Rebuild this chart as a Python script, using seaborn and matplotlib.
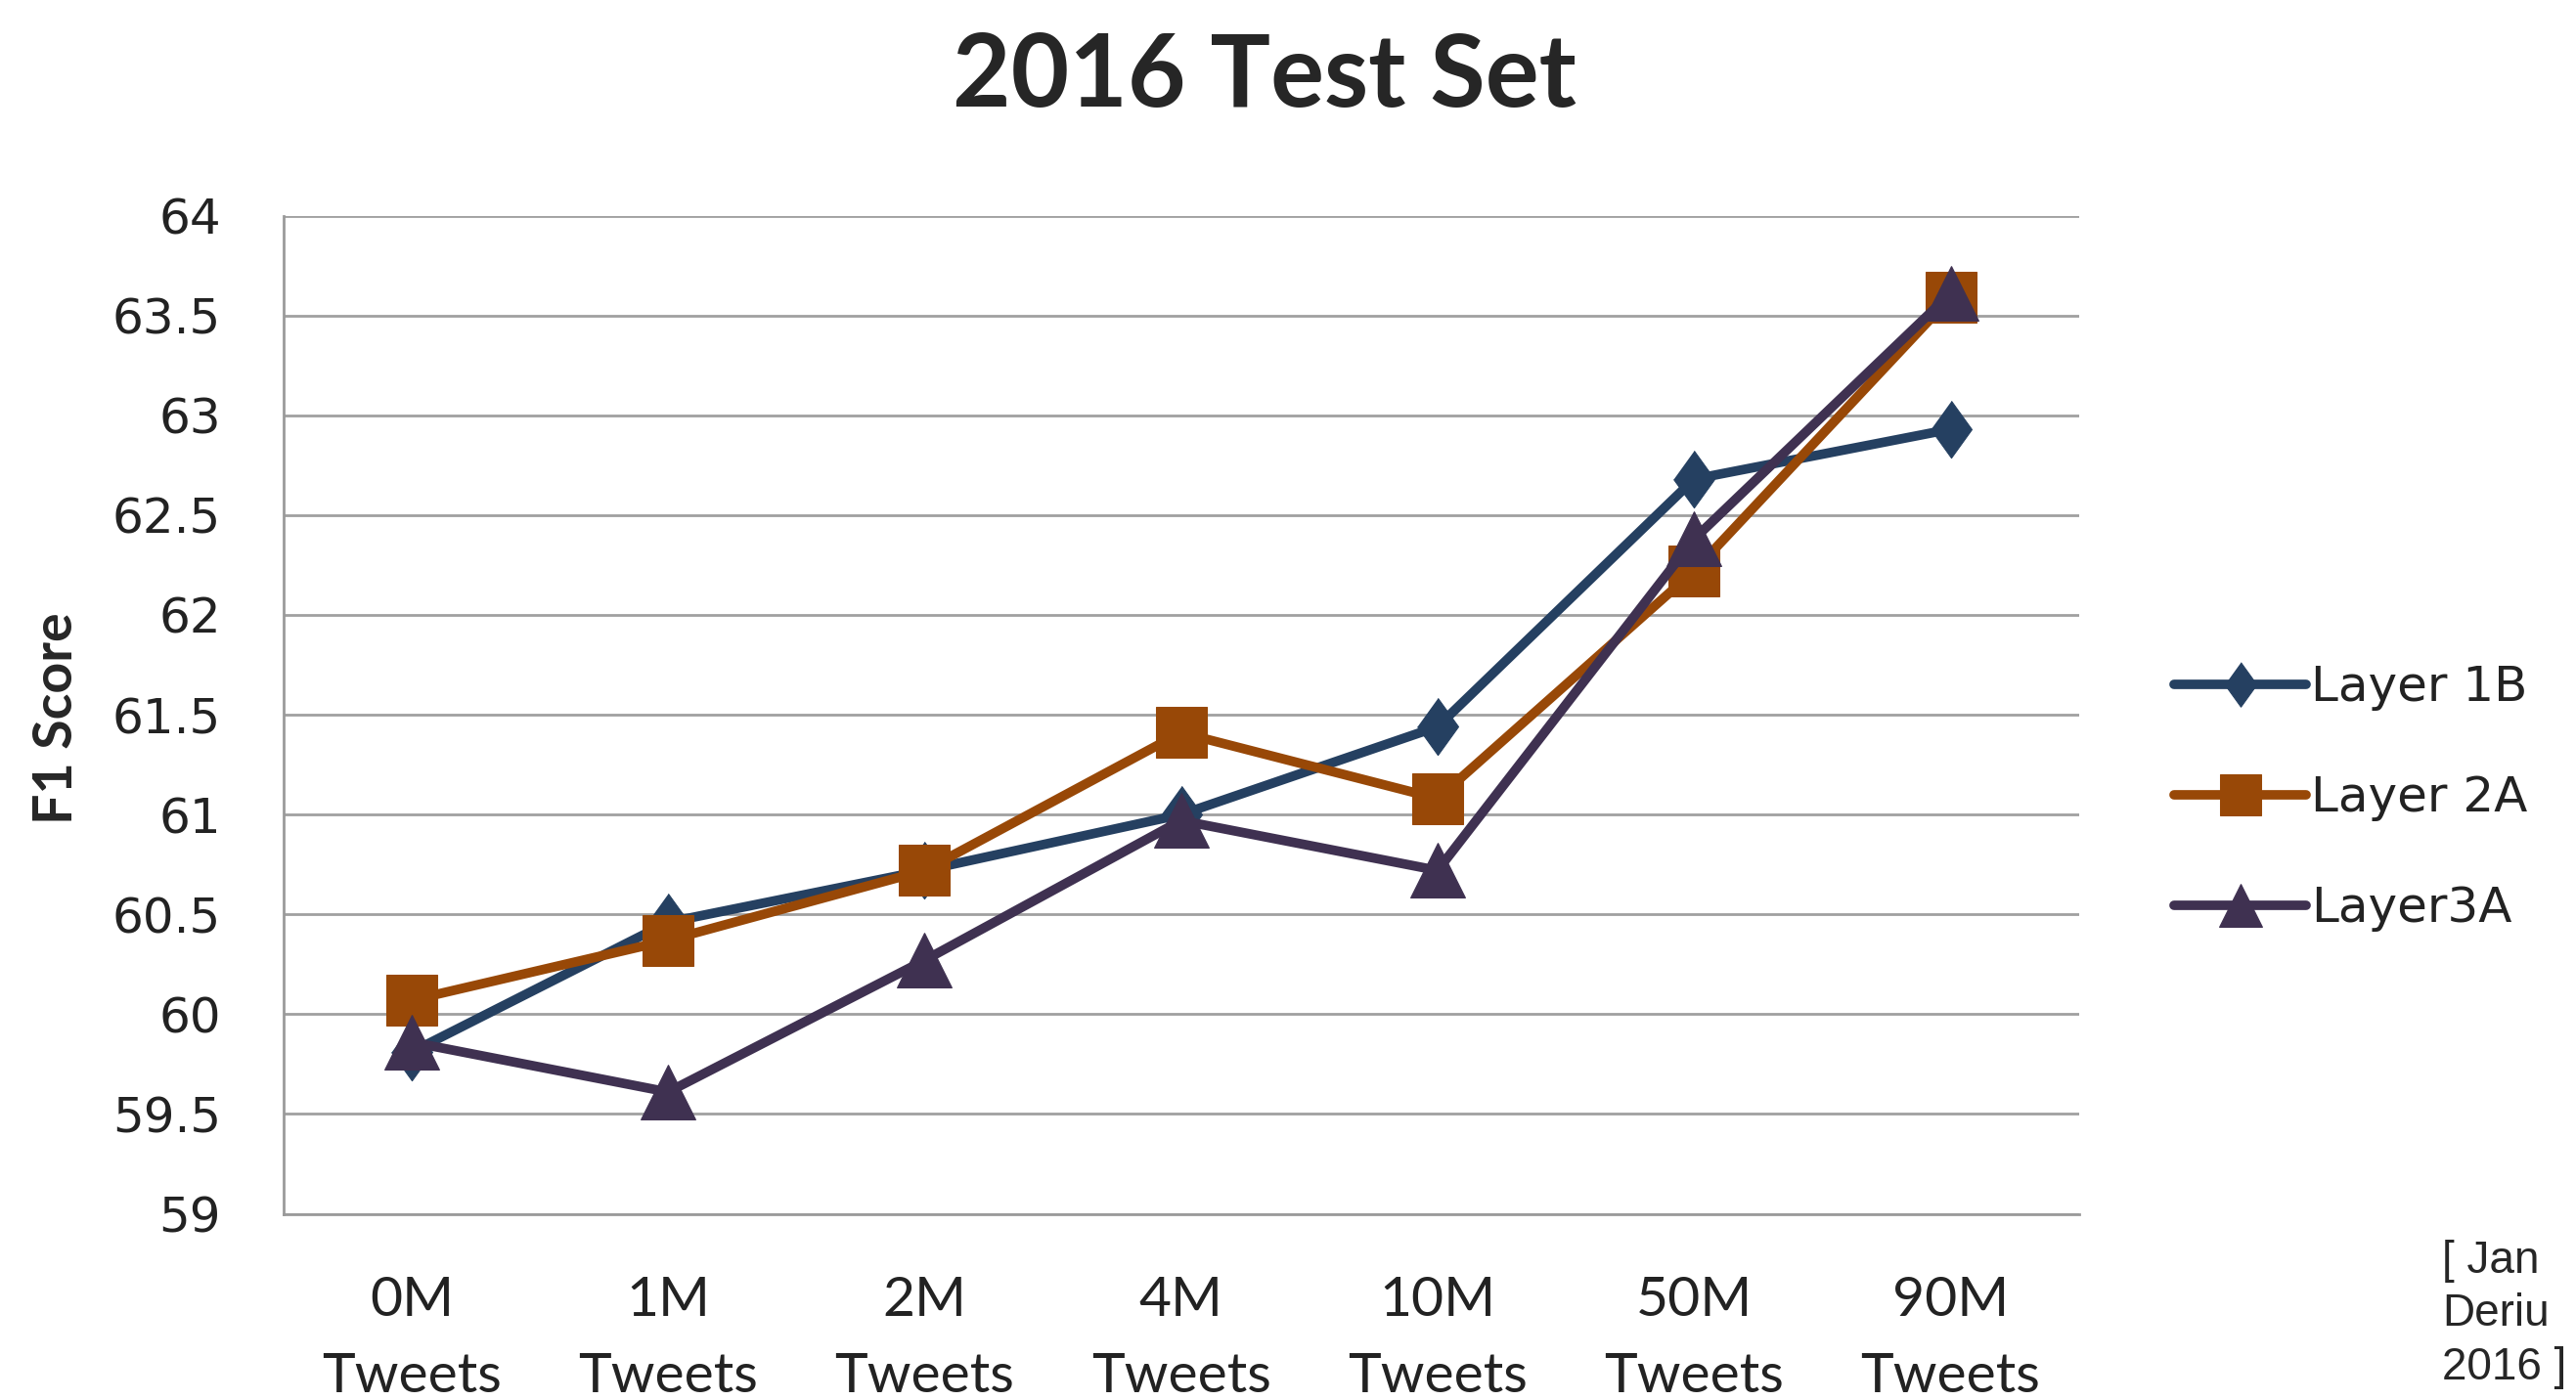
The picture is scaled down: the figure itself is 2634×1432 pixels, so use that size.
import pandas as pd
import seaborn as sns
import matplotlib.pyplot as plt

# 数据
categories = ['0M\nTweets', '1M\nTweets', '2M\nTweets', '4M\nTweets',
              '10M\nTweets', '50M\nTweets', '90M\nTweets']
layer_1b = [59.81, 60.46, 60.72, 61.00, 61.44, 62.68, 62.93]
layer_2a = [60.07, 60.37, 60.72, 61.41, 61.08, 62.22, 63.59]
layer_3a = [59.86, 59.61, 60.27, 60.97, 60.72, 62.38, 63.61]
series_names = ['Layer 1B', 'Layer 2A', 'Layer3A']
y_ticks = [59, 59.5, 60, 60.5, 61, 61.5, 62, 62.5, 63, 63.5, 64]

COLORS = ['#254061', '#984807', '#3f3151']
DIAMOND = [(0, 1), (0.72, 0), (0, -1), (-0.72, 0)]


def plot_f1():
    sns.set_style('white')
    plt.rcParams['font.family'] = ['Lato', 'DejaVu Sans']

    df = pd.DataFrame({
        'tweets': categories * 3,
        'f1': layer_1b + layer_2a + layer_3a,
        'layer': [n for n in series_names for _ in categories],
    })

    fig = plt.figure(figsize=(26.34, 14.32), dpi=100)
    ax = fig.add_axes([0.110, 0.133, 0.697, 0.713])

    markers = [DIAMOND, 's', '^']
    sizes = [42, 38, 40]
    for i, name in enumerate(series_names):
        sub = df[df['layer'] == name]
        sns.lineplot(data=sub, x='tweets', y='f1', ax=ax, color=COLORS[i],
                     marker=markers[i], markersize=sizes[i], linewidth=7,
                     markeredgecolor=COLORS[i], label=name, zorder=3 + i)

    ax.set_xlim(-0.5, 6.5)
    ax.set_ylim(59, 64)
    ax.set_yticks(y_ticks)
    ax.set_yticklabels([f'{t:g}' for t in y_ticks],
                       family=['DejaVu Sans'], fontsize=36)
    ax.yaxis.grid(True, color='#a0a0a0', linewidth=2)
    ax.set_axisbelow(True)
    ax.set_xlabel('')
    ax.set_ylabel('')
    for side in ['top', 'right']:
        ax.spines[side].set_visible(False)
    for side in ['left', 'bottom']:
        ax.spines[side].set_color('#9a9a9a')
        ax.spines[side].set_linewidth(2)
    ax.tick_params(axis='y', length=0, pad=46, labelcolor='#222222')
    ax.tick_params(axis='x', length=0, pad=46, labelsize=41, labelcolor='#222222')
    for lab in ax.get_xticklabels():
        lab.set_linespacing(1.65)

    leg = ax.legend(loc='center left', bbox_to_anchor=(0.827, 0.430),
                    bbox_transform=fig.transFigure, frameon=False,
                    prop={'family': 'DejaVu Sans', 'size': 36},
                    handlelength=2.7, handletextpad=0.1, labelspacing=1.3,
                    markerscale=0.78)
    for t in leg.get_texts():
        t.set_color('#222222')

    fig.suptitle('2016 Test Set', x=0.491, y=0.978, fontsize=74,
                 fontweight='bold')
    fig.text(0.022, 0.487, 'F1 Score', rotation=90, fontsize=40,
             fontweight='bold', ha='center', va='center')
    fig.text(0.948, 0.008, '[ Jan\nDeriu\n2016 ]', fontsize=33,
             family=['Liberation Sans', 'DejaVu Sans'], ha='left', va='bottom',
             linespacing=1.3)

    plt.savefig('out.png', dpi=100)


if __name__ == '__main__':
    plot_f1()
